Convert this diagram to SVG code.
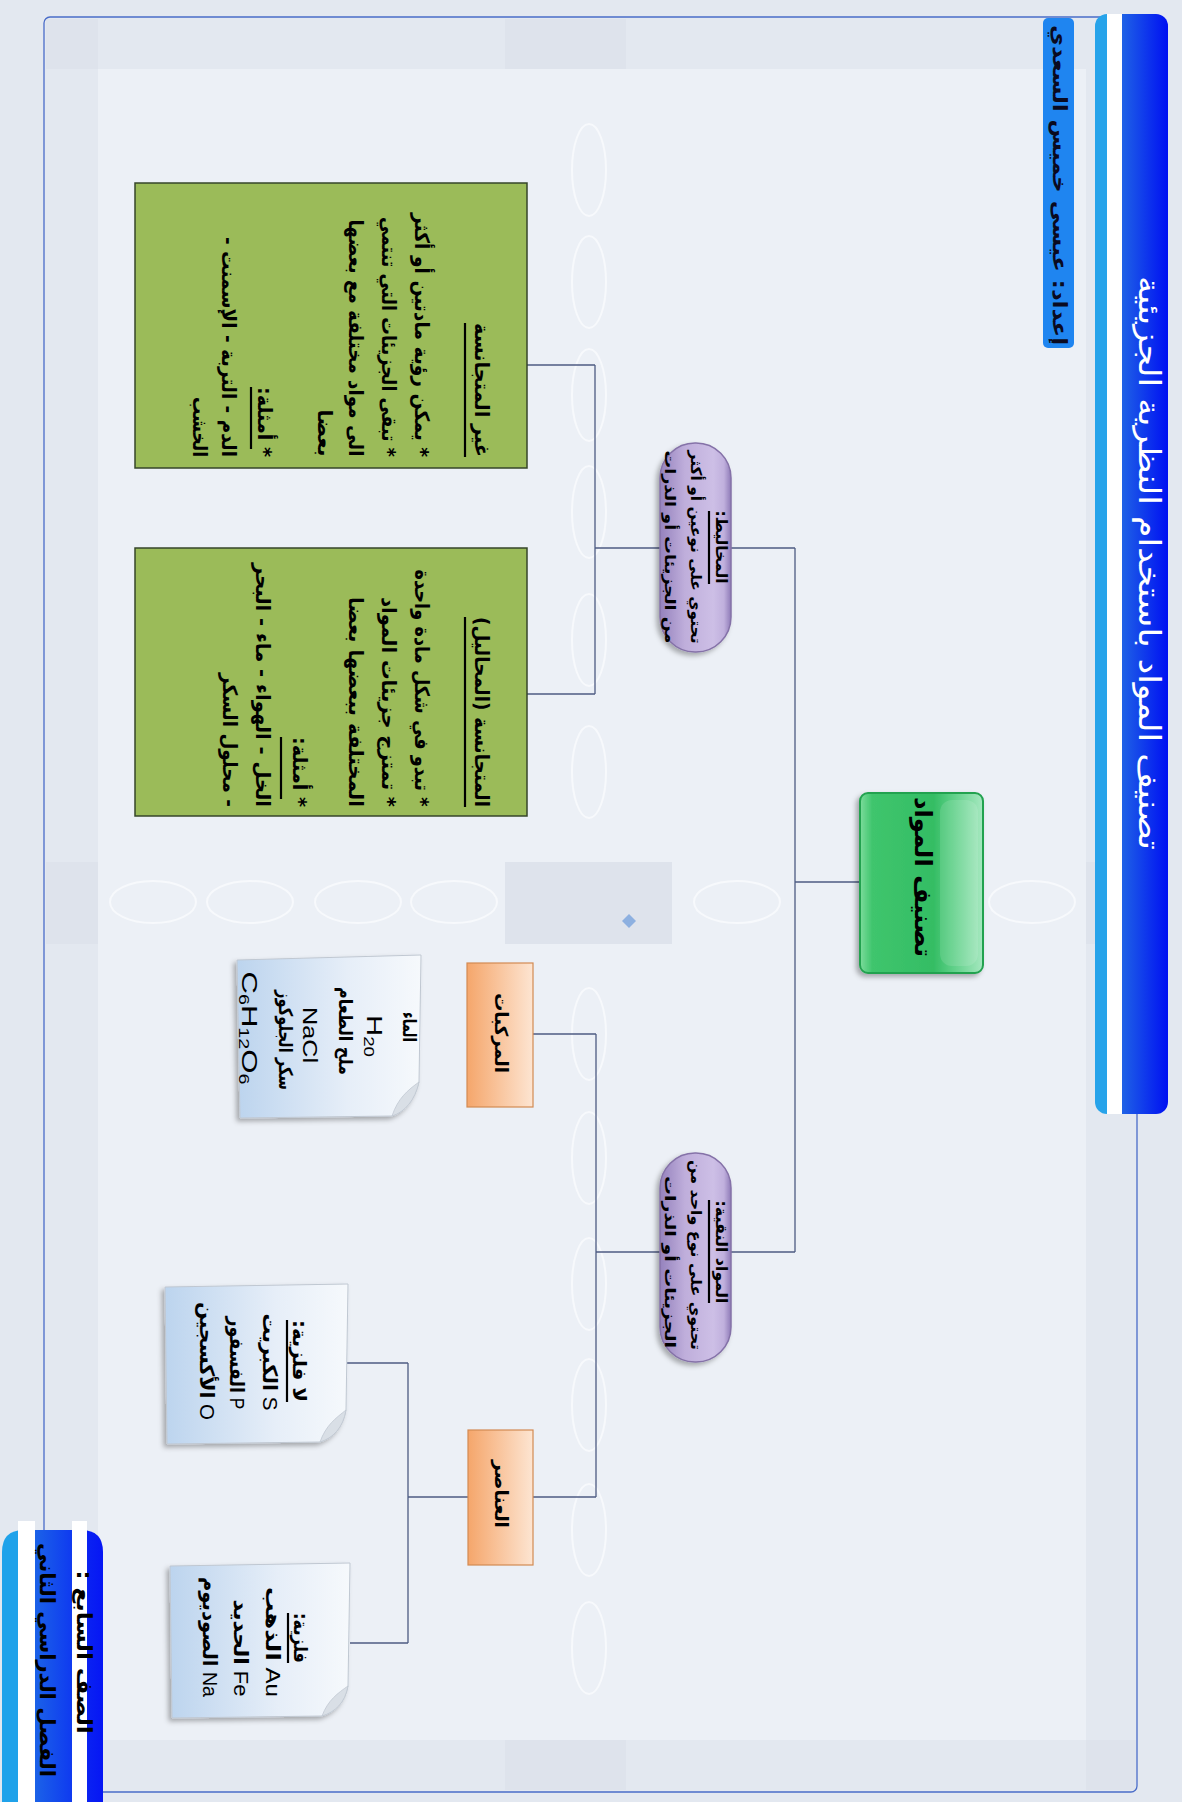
<svg xmlns="http://www.w3.org/2000/svg" width="1182" height="1802" viewBox="0 0 1182 1802">
<style>
.ar{font-family:"DejaVu Sans",sans-serif;font-weight:bold;direction:rtl;text-anchor:middle;fill:#000}
.la{font-family:"Liberation Sans","DejaVu Sans",sans-serif;text-anchor:middle;fill:#000}
.mx{font-family:"Liberation Sans","DejaVu Sans",sans-serif;direction:rtl;text-anchor:middle;fill:#000}
.conn{stroke:#4d5b82;stroke-width:1.3;fill:none}
.ul{stroke:#000;stroke-width:2.2}
.ell{fill:none;stroke:#f7f9fc;stroke-width:2}
.patch{fill:#dee3ec}
.gbox{fill:#9bbb59;stroke:#36452a;stroke-width:1.5}
.pill{fill:url(#gPur);stroke:#8572a8;stroke-width:1.5;filter:url(#sh)}
.orng{fill:url(#gOr);stroke:#d38a52;stroke-width:1.2}
.note{fill:url(#gNote);stroke:#c0c8d2;stroke-width:1;filter:url(#sh)}
.curl{fill:#d9dfe6;stroke:#c0c8d2;stroke-width:0.8}
</style>
<defs>
<filter id="sh" x="-20%" y="-20%" width="140%" height="140%"><feDropShadow dx="-3" dy="3" stdDeviation="2.5" flood-color="#000" flood-opacity="0.3"/></filter>
<linearGradient id="gTitle" x1="0" y1="0" x2="1" y2="0">
<stop offset="0" stop-color="#27a3ea"/><stop offset="0.16" stop-color="#27a3ea"/><stop offset="0.16" stop-color="#ffffff"/><stop offset="0.37" stop-color="#ffffff"/><stop offset="0.37" stop-color="#1f62e6"/><stop offset="1" stop-color="#0010f2"/>
</linearGradient>
<linearGradient id="gBL" x1="0" y1="0" x2="1" y2="0">
<stop offset="0" stop-color="#1fa2ea"/><stop offset="0.158" stop-color="#1fa2ea"/><stop offset="0.158" stop-color="#ffffff"/><stop offset="0.327" stop-color="#ffffff"/><stop offset="0.327" stop-color="#1b62e8"/><stop offset="0.693" stop-color="#0f3af0"/><stop offset="0.693" stop-color="#ffffff"/><stop offset="0.842" stop-color="#ffffff"/><stop offset="0.842" stop-color="#0a22f2"/><stop offset="1" stop-color="#0616f4"/>
</linearGradient>
<linearGradient id="gMain" x1="0" y1="0" x2="1" y2="0">
<stop offset="0" stop-color="#7ddc9c"/><stop offset="0.1" stop-color="#3fc56d"/><stop offset="0.6" stop-color="#34bd64"/><stop offset="0.75" stop-color="#5ccf86"/><stop offset="1" stop-color="#a6e8c0"/>
</linearGradient>
<linearGradient id="gPur" x1="0" y1="0" x2="1" y2="0">
<stop offset="0" stop-color="#9582bd"/><stop offset="0.35" stop-color="#bfaedb"/><stop offset="0.75" stop-color="#cdbfe6"/><stop offset="0.9" stop-color="#c0b0dd"/><stop offset="1" stop-color="#8f7bb8"/>
</linearGradient>
<linearGradient id="gOr" x1="0" y1="0" x2="1" y2="0">
<stop offset="0" stop-color="#f5a66b"/><stop offset="1" stop-color="#fde5d2"/>
</linearGradient>
<linearGradient id="gNote" x1="0" y1="0" x2="1" y2="0">
<stop offset="0" stop-color="#bcd4ee"/><stop offset="0.6" stop-color="#e6eef8"/><stop offset="1" stop-color="#f6f9fc"/>
</linearGradient>
</defs>

<!-- background -->
<g id="background">
<rect x="0" y="0" width="1182" height="1802" fill="#e3e8f0"/>
<rect x="98" y="69" width="988" height="1671" fill="#ecf0f6"/>
<rect class="patch" x="46" y="19" width="52" height="50"/>
<rect class="patch" x="505" y="19" width="121" height="50"/>
<rect class="patch" x="46" y="862" width="52" height="82"/>
<rect class="patch" x="505" y="862" width="167" height="82"/>
<rect class="patch" x="1086" y="862" width="50" height="82"/>
<rect class="patch" x="46" y="1740" width="52" height="50"/>
<rect class="patch" x="505" y="1740" width="121" height="50"/>
<rect class="patch" x="1086" y="1740" width="50" height="50"/>
<ellipse class="ell" cx="589" cy="170" rx="17" ry="46"/>
<ellipse class="ell" cx="589" cy="282" rx="17" ry="46"/>
<ellipse class="ell" cx="589" cy="395" rx="17" ry="46"/>
<ellipse class="ell" cx="589" cy="512" rx="17" ry="46"/>
<ellipse class="ell" cx="589" cy="640" rx="17" ry="46"/>
<ellipse class="ell" cx="589" cy="772" rx="17" ry="46"/>
<ellipse class="ell" cx="589" cy="1034" rx="17" ry="46"/>
<ellipse class="ell" cx="589" cy="1158" rx="17" ry="46"/>
<ellipse class="ell" cx="589" cy="1284" rx="17" ry="46"/>
<ellipse class="ell" cx="589" cy="1405" rx="17" ry="46"/>
<ellipse class="ell" cx="589" cy="1530" rx="17" ry="46"/>
<ellipse class="ell" cx="589" cy="1648" rx="17" ry="46"/>
<ellipse class="ell" cx="153" cy="902" rx="43" ry="21"/>
<ellipse class="ell" cx="250" cy="902" rx="43" ry="21"/>
<ellipse class="ell" cx="358" cy="902" rx="43" ry="21"/>
<ellipse class="ell" cx="454" cy="902" rx="43" ry="21"/>
<ellipse class="ell" cx="737" cy="902" rx="43" ry="21"/>
<ellipse class="ell" cx="1032" cy="902" rx="43" ry="21"/>
<polygon points="629,914 636,921 629,928 622,921" fill="#8db0e0"/>
<rect x="44" y="17" width="1093" height="1775" rx="6" fill="none" stroke="#4a6cc8" stroke-width="1.3"/>
</g>

<!-- title bar -->
<g id="title">
<rect x="1095" y="14" width="73" height="1100" rx="12" fill="url(#gTitle)"/>
<text class="ar" font-size="30" style="fill:#fff;font-weight:normal" transform="translate(1139,563) rotate(90)" textLength="574" lengthAdjust="spacingAndGlyphs">تصنيف المواد باستخدام النظرية الجزيئية</text>
</g>

<g id="author">
<rect x="1043" y="18" width="31" height="330" rx="5" fill="#1f85f0"/>
<text class="ar" font-size="20" style="fill:#0a0a20" transform="translate(1053,185) rotate(90)" textLength="320" lengthAdjust="spacingAndGlyphs">إعداد: عيسى خميس السعدي</text>
</g>

<g id="grade">
<path d="M2,1802 L2,1552 Q2,1530 24,1530 L81,1530 Q103,1530 103,1552 L103,1802 Z" fill="url(#gBL)"/>
<rect x="18" y="1521" width="17" height="274" fill="#fff"/>
<rect x="72" y="1521" width="15" height="274" fill="#fff"/>
<text class="ar" font-size="21" transform="translate(77,1652) rotate(90)" textLength="163" lengthAdjust="spacingAndGlyphs">الصف السابع :</text>
<text class="ar" font-size="21" transform="translate(40,1660) rotate(90)" textLength="234" lengthAdjust="spacingAndGlyphs">الفصل الدراسي الثاني</text>
</g>

<!-- connectors -->
<g id="connectors">
<path class="conn" d="M860,882 H795 M795,548 V1252 M731,548 H795 M731,1252 H795"/>
<path class="conn" d="M660,548 H595 M595,365 V694 M527,365 H595 M527,694 H595"/>
<path class="conn" d="M660,1252 H596 M596,1034 V1497 M533,1034 H596 M533,1497 H596"/>
<path class="conn" d="M468,1497 H408 M408,1363 V1643 M347,1363 H408 M350,1643 H408"/>
</g>

<!-- main node -->
<g id="node-main">
<rect x="860" y="793" width="123" height="180" rx="8" fill="url(#gMain)" stroke="#23a24f" stroke-width="2" filter="url(#sh)"/>
<rect x="940" y="800" width="38" height="166" rx="12" fill="#ffffff" opacity="0.12"/>
<text class="ar" font-size="24" transform="translate(915,877) rotate(90)" textLength="160" lengthAdjust="spacingAndGlyphs">تصنيف المواد</text>
</g>

<!-- mixtures pill -->
<g id="node-mixtures">
<rect class="pill" x="660" y="443" width="71" height="209" rx="35"/>
<text class="ar" font-size="16" transform="translate(716,547) rotate(90)" textLength="73" lengthAdjust="spacingAndGlyphs">المخاليط:</text>
<line class="ul" x1="709" y1="511" x2="709" y2="584"/>
<text class="ar" font-size="15" transform="translate(691,547) rotate(90)" textLength="193" lengthAdjust="spacingAndGlyphs">تحتوي على نوعين أو أكثر</text>
<text class="ar" font-size="15" transform="translate(665,547) rotate(90)" textLength="193" lengthAdjust="spacingAndGlyphs">من الجزيئات أو الذرات</text>
</g>

<!-- pure substances pill -->
<g id="node-pure">
<rect class="pill" x="660" y="1153" width="71" height="209" rx="35"/>
<text class="ar" font-size="16" transform="translate(716,1252) rotate(90)" textLength="103" lengthAdjust="spacingAndGlyphs">المواد النقية:</text>
<line class="ul" x1="709" y1="1200" x2="709" y2="1303"/>
<text class="ar" font-size="15" transform="translate(691,1255) rotate(90)" textLength="190" lengthAdjust="spacingAndGlyphs">تحتوي على نوع واحد من</text>
<text class="ar" font-size="15" transform="translate(665,1262) rotate(90)" textLength="172" lengthAdjust="spacingAndGlyphs">الجزيئات أو الذرات</text>
</g>

<!-- heterogeneous -->
<g id="node-heterogeneous">
<rect class="gbox" x="135" y="183" width="392" height="285"/>
<text class="ar" font-size="20" transform="translate(475,390) rotate(90)" textLength="134" lengthAdjust="spacingAndGlyphs">غير المتجانسة</text>
<line class="ul" x1="465" y1="323" x2="465" y2="457"/>
<text class="ar" font-size="20" transform="translate(415,335) rotate(90)" textLength="244" lengthAdjust="spacingAndGlyphs">* يمكن رؤية مادتين أو أكثر</text>
<text class="ar" font-size="20" transform="translate(382,337) rotate(90)" textLength="240" lengthAdjust="spacingAndGlyphs">* تبقى الجزيئات التي تنتمي</text>
<text class="ar" font-size="20" transform="translate(349,338) rotate(90)" textLength="237" lengthAdjust="spacingAndGlyphs">الى مواد مختلفة مع بعضها</text>
<text class="ar" font-size="20" transform="translate(318,433) rotate(90)" textLength="47" lengthAdjust="spacingAndGlyphs">بعضا</text>
<text class="ar" font-size="20" transform="translate(258,422) rotate(90)" textLength="70" lengthAdjust="spacingAndGlyphs">* أمثلة:</text>
<line class="ul" x1="251" y1="387" x2="251" y2="449"/>
<text class="ar" font-size="20" transform="translate(222,347) rotate(90)" textLength="220" lengthAdjust="spacingAndGlyphs">الدم - التربة - الإسمنت -</text>
<text class="ar" font-size="20" transform="translate(193,427) rotate(90)" textLength="60" lengthAdjust="spacingAndGlyphs">الخشب</text>
</g>

<!-- homogeneous -->
<g id="node-homogeneous">
<rect class="gbox" x="135" y="548" width="392" height="268"/>
<text class="ar" font-size="20" transform="translate(475,712) rotate(90)" textLength="190" lengthAdjust="spacingAndGlyphs">المتجانسة (المحاليل)</text>
<line class="ul" x1="465" y1="617" x2="465" y2="807"/>
<text class="ar" font-size="20" transform="translate(415,688) rotate(90)" textLength="237" lengthAdjust="spacingAndGlyphs">* تبدو في شكل مادة واحدة</text>
<text class="ar" font-size="20" transform="translate(382,702) rotate(90)" textLength="210" lengthAdjust="spacingAndGlyphs">* تمتزج جزيئات المواد</text>
<text class="ar" font-size="20" transform="translate(349,702) rotate(90)" textLength="210" lengthAdjust="spacingAndGlyphs">المختلفة ببعضها بعضا</text>
<text class="ar" font-size="20" transform="translate(293,772) rotate(90)" textLength="70" lengthAdjust="spacingAndGlyphs">* أمثلة:</text>
<line class="ul" x1="281" y1="737" x2="281" y2="799"/>
<text class="ar" font-size="20" transform="translate(256,685) rotate(90)" textLength="244" lengthAdjust="spacingAndGlyphs">الخل - الهواء - ماء - البحر</text>
<text class="ar" font-size="20" transform="translate(223,740) rotate(90)" textLength="134" lengthAdjust="spacingAndGlyphs">- محلول السكر</text>
</g>

<!-- compounds -->
<g id="node-compounds">
<rect class="orng" x="467" y="963" width="66" height="144"/>
<text class="ar" font-size="18" transform="translate(495,1033) rotate(90)" textLength="80" lengthAdjust="spacingAndGlyphs">المركبات</text>
</g>

<!-- elements -->
<g id="node-elements">
<rect class="orng" x="468" y="1430" width="65" height="135"/>
<text class="ar" font-size="18" transform="translate(495,1494) rotate(90)" textLength="68" lengthAdjust="spacingAndGlyphs">العناصر</text>
</g>

<!-- compounds note -->
<g id="note-compounds">
<path class="note" d="M237,960 L421,955 L419,1082 C415,1100 405,1112 392,1116 L240,1118 Z"/>
<path class="curl" d="M419,1082 C408,1090 398,1098 392,1116 C405,1112 415,1100 419,1082 Z"/>
<text class="ar" font-size="19" transform="translate(403,1027) rotate(90)" textLength="30" lengthAdjust="spacingAndGlyphs">الماء</text>
<text class="la" font-size="22" transform="translate(367,1036) rotate(90)" textLength="42" lengthAdjust="spacingAndGlyphs">H<tspan font-size="14" dy="3">20</tspan></text>
<text class="ar" font-size="19" transform="translate(339,1031) rotate(90)" textLength="88" lengthAdjust="spacingAndGlyphs">ملح الطعام</text>
<text class="la" font-size="21" transform="translate(303,1035) rotate(90)" textLength="56" lengthAdjust="spacingAndGlyphs">NaCl</text>
<text class="ar" font-size="19" transform="translate(279,1040) rotate(90)" textLength="100" lengthAdjust="spacingAndGlyphs">سكر الجلوكوز</text>
<text class="la" font-size="22" transform="translate(242,1028) rotate(90)" textLength="113" lengthAdjust="spacingAndGlyphs">C<tspan font-size="14" dy="3">6</tspan><tspan font-size="22" dy="-3">H</tspan><tspan font-size="14" dy="3">12</tspan><tspan font-size="22" dy="-3">O</tspan><tspan font-size="14" dy="3">6</tspan></text>
</g>

<!-- non-metals note -->
<g id="note-nonmetals">
<path class="note" d="M165,1287 L348,1284 L346,1410 C343,1428 333,1438 320,1442 L167,1444 Z"/>
<path class="curl" d="M346,1410 C336,1418 326,1425 320,1442 C333,1438 343,1428 346,1410 Z"/>
<text class="ar" font-size="19" transform="translate(293,1361) rotate(90)" textLength="82" lengthAdjust="spacingAndGlyphs">لا فلزية:</text>
<line class="ul" x1="287" y1="1320" x2="287" y2="1402"/>
<text class="mx" font-size="20" transform="translate(263,1362) rotate(90)" textLength="97" lengthAdjust="spacingAndGlyphs">S <tspan font-weight="bold">الكبريت</tspan></text>
<text class="mx" font-size="20" transform="translate(230,1363) rotate(90)" textLength="93" lengthAdjust="spacingAndGlyphs">P <tspan font-weight="bold">الفسفور</tspan></text>
<text class="mx" font-size="20" transform="translate(200,1361) rotate(90)" textLength="118" lengthAdjust="spacingAndGlyphs">O <tspan font-weight="bold">الأكسجين</tspan></text>
</g>

<!-- metals note -->
<g id="note-metals">
<path class="note" d="M170,1566 L350,1563 L348,1686 C345,1703 335,1712 322,1716 L172,1718 Z"/>
<path class="curl" d="M348,1686 C338,1693 328,1700 322,1716 C335,1712 345,1703 348,1686 Z"/>
<text class="ar" font-size="19" transform="translate(294,1638) rotate(90)" textLength="50" lengthAdjust="spacingAndGlyphs">فلزية:</text>
<line class="ul" x1="288" y1="1613" x2="288" y2="1663"/>
<text class="mx" font-size="20" transform="translate(266,1642) rotate(90)" textLength="110" lengthAdjust="spacingAndGlyphs">Au <tspan font-weight="bold">الذهب</tspan></text>
<text class="mx" font-size="20" transform="translate(234,1648) rotate(90)" textLength="97" lengthAdjust="spacingAndGlyphs">Fe <tspan font-weight="bold">الحديد</tspan></text>
<text class="mx" font-size="20" transform="translate(203,1637) rotate(90)" textLength="120" lengthAdjust="spacingAndGlyphs">Na <tspan font-weight="bold">الصوديوم</tspan></text>
</g>
</svg>
